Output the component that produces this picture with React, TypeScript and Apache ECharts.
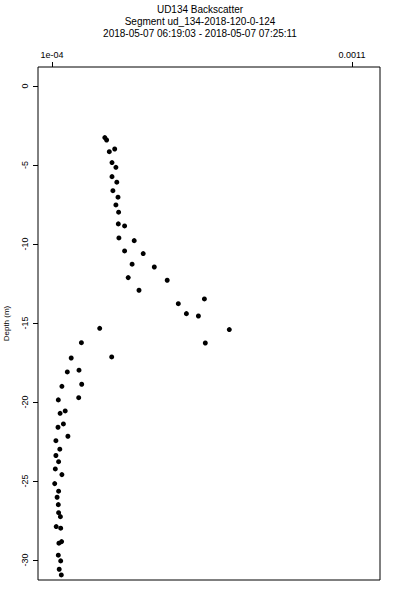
import React, { useEffect, useRef } from "react";
import * as echarts from "echarts";

const titleLines = [
  "UD134 Backscatter",
  "Segment ud_134-2018-120-0-124",
  "2018-05-07 06:19:03 - 2018-05-07 07:25:11",
];
const xTickValues = [1e-4, 0.0011];
const xTickLabels = ["1e-04", "0.0011"];
const yTickValues = [0, -5, -10, -15, -20, -25, -30];
const yAxisName = "Depth (m)";

const backscatter = [
  2.76e-4, 2.82e-4, 2.91e-4, 3.09e-4, 3.0e-4, 3.13e-4, 3.0e-4, 3.16e-4,
  3.03e-4, 3.2e-4, 3.13e-4, 3.22e-4, 3.21e-4, 3.42e-4, 3.23e-4, 3.74e-4,
  3.42e-4, 4.04e-4, 3.67e-4, 4.41e-4, 3.54e-4, 4.84e-4, 3.9e-4, 5.21e-4,
  6.08e-4, 5.48e-4, 5.88e-4, 2.59e-4, 6.91e-4, 6.11e-4, 1.98e-4, 1.64e-4,
  2.99e-4, 1.51e-4, 1.9e-4, 1.33e-4, 1.99e-4, 1.21e-4, 1.89e-4, 1.27e-4,
  1.44e-4, 1.2e-4, 1.38e-4, 1.13e-4, 1.53e-4, 1.26e-4, 1.13e-4, 1.22e-4,
  1.11e-4, 1.33e-4, 1.09e-4, 1.22e-4, 1.17e-4, 1.21e-4, 1.22e-4, 1.28e-4,
  1.14e-4, 1.29e-4, 1.23e-4, 1.32e-4, 1.21e-4, 1.29e-4, 1.24e-4, 1.31e-4,
];
const depth = [
  -3.27, -3.42, -4.16, -3.99, -4.85, -5.15, -5.74, -6.09,
  -6.63, -7.04, -7.53, -7.99, -8.73, -8.86, -9.62, -9.79,
  -10.44, -10.61, -11.28, -11.46, -12.13, -12.3, -12.93, -13.78,
  -13.48, -14.41, -14.56, -15.34, -15.42, -16.27, -16.25, -17.22,
  -17.15, -18.1, -17.99, -19.01, -18.88, -19.87, -19.73, -20.72,
  -20.57, -21.6, -21.39, -22.45, -22.17, -22.99, -23.39, -23.78,
  -24.24, -24.6, -25.17, -25.65, -26.03, -26.5, -27.01, -27.26,
  -27.89, -27.99, -28.94, -28.84, -29.7, -30.06, -30.59, -30.95,
];

const FONT = "'Liberation Sans', Arial, sans-serif";

export default function App() {
  const ref = useRef<HTMLDivElement>(null);
  useEffect(() => {
    if (!ref.current) return;
    const chart = echarts.init(ref.current, null, { renderer: "svg" });
    const pts = backscatter.map((v, i) => [v, depth[i]]);
    chart.setOption({
      animation: false,
      backgroundColor: "#ffffff",
      title: {
        text: titleLines.join("\n"),
        left: "center",
        top: -2,
        textStyle: {
          fontFamily: FONT,
          fontSize: 10,
          fontWeight: "normal",
          color: "#000",
          lineHeight: 12,
        },
      },
      grid: {
        left: 38,
        right: 20,
        top: 67,
        bottom: 20,
        outerBoundsMode: "none",
        containLabel: false,
        show: true,
        borderColor: "#000",
        borderWidth: 1,
        backgroundColor: "transparent",
      },
      xAxis: {
        type: "value",
        position: "top",
        min: 0.5333e-4,
        max: 11.9333e-4,
        axisLine: { show: false, onZero: false },
        splitLine: { show: false },
        axisTick: {
          show: true,
          inside: false,
          length: 5,
          customValues: xTickValues,
          lineStyle: { color: "#000", width: 1 },
        },
        axisLabel: {
          show: true,
          customValues: xTickValues,
          margin: 8,
          fontFamily: FONT,
          fontSize: 9,
          color: "#000",
          formatter: (v: number) => {
            const idx = xTickValues.findIndex((t) => Math.abs(t - v) < 1e-9);
            return idx >= 0 ? xTickLabels[idx] : "";
          },
        },
      },
      yAxis: {
        type: "value",
        min: -31.27,
        max: 1.2,
        name: yAxisName,
        nameLocation: "middle",
        nameRotate: 90,
        nameGap: 28,
        nameTextStyle: { fontFamily: FONT, fontSize: 8, color: "#000" },
        axisLine: { show: false, onZero: false },
        splitLine: { show: false },
        axisTick: {
          show: true,
          length: 5,
          customValues: yTickValues,
          lineStyle: { color: "#000", width: 1 },
        },
        axisLabel: {
          show: true,
          customValues: yTickValues,
          rotate: 90,
          margin: 9,
          fontFamily: FONT,
          fontSize: 9,
          color: "#000",
        },
      },
      series: [
        {
          type: "scatter",
          data: pts,
          symbol: "circle",
          symbolSize: 5,
          itemStyle: { color: "#000", opacity: 1 },
        },
      ],
    });
    return () => chart.dispose();
  }, []);
  return (
    <div
      ref={ref}
      style={{ position: "fixed", left: 0, top: 0, width: 400, height: 600 }}
    />
  );
}
